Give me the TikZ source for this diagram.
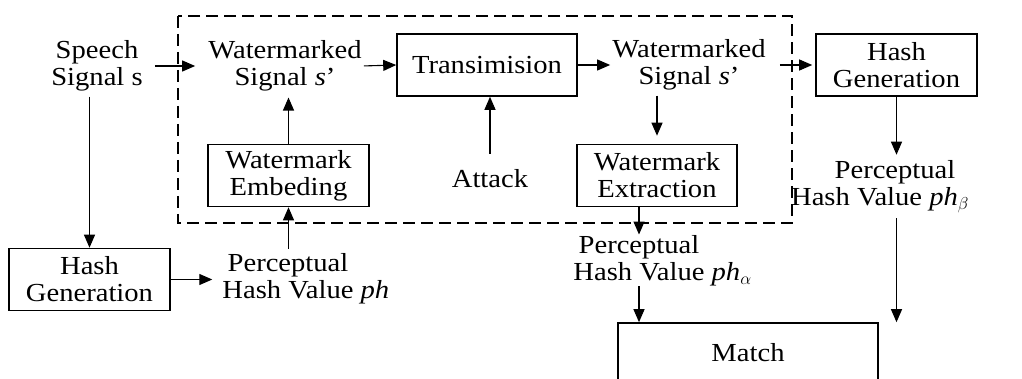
\documentclass[tikz,border=0pt]{standalone}
\usepackage{fontspec}
\setmainfont{Liberation Serif}[FakeStretch=1.1]
\usetikzlibrary{arrows.meta}
\tikzset{
  lbl/.style={font=\fontsize{26}{27}\selectfont, align=center, inner sep=0pt},
  blk/.style={lbl, draw, line width=1.6pt, minimum height=62pt},
  arr/.style={line width=1.1pt, -{Triangle[length=13pt,width=11pt]}},
  frame/.style={line width=1.5pt, dash pattern=on 12pt off 6pt}
}
\begin{document}
\begin{tikzpicture}[x=1pt,y=-1pt]
\useasboundingbox (0,0) rectangle (1022,379);
\clip (0,0) rectangle (1022,379);
\fill[white] (0,0) rectangle (1022,379);
% dashed frame
\draw[frame] (178,16) rectangle (792,223);
% text labels
\node[lbl] (speech) at (97,66) {Speech\\Signal s};
\node[lbl] (wm1) at (285,66) {Watermarked\\Signal \textit{s}’};
\node[lbl] (wm2) at (689,65) {Watermarked\\Signal \textit{s}’};
\node[lbl] (attack) at (490,179) {Attack};
\node[lbl] (phL) at (288,279) {Perceptual\\Hash Value\rlap{ \textit{ph}}};
\node[lbl] (phA) at (639,261) {Perceptual\\Hash Value\rlap{ \textit{ph}$_\alpha$}};
\node[lbl] (phB) at (880,187) {\hspace*{30pt}Perceptual\\Hash Value \textit{ph}$_\beta$};
% boxes
\node[blk, minimum width=180pt] (trans) at (487,65) {Transimision};
\node[blk, minimum width=161pt] (hashR) at (896.5,65) {Hash\\Generation};
\node[blk, minimum width=161pt] (embed) at (288.5,175.5) {Watermark\\Embeding};
\node[blk, minimum width=160pt] (extract) at (657,175.5) {Watermark\\Extraction};
\node[blk, minimum width=161pt] (hashL) at (89.5,279.5) {Hash\\Generation};
\node[blk, minimum width=260pt, minimum height=70pt] (match) at (748,358) {};
\node[lbl] (matchtxt) at (748,353) {Match};
% connectors
\draw[arr, shorten <=12pt, shorten >=13pt] (speech.east) -- (wm1.west);
\draw[arr, shorten <=2pt] (wm1.east) -- (trans.west);
\draw[arr, shorten >=2pt] (trans.east) -- (wm2.west);
\draw[arr, shorten <=14pt, shorten >=3pt] (wm2.east) -- (hashR.west);
\draw[arr, shorten <=5pt] (speech.south -| hashL.north) -- (hashL.north);
\draw[arr, shorten >=6pt] (embed.north) -- (embed.north |- wm1.south);
\draw[arr, shorten <=16pt] (attack.north) -- (attack.north |- trans.south);
\draw[arr, shorten <=5pt, shorten >=8pt] (extract.north |- wm2.south) -- (extract.north);
\draw[arr, shorten >=1pt] (extract.south -| phA.north) -- (phA.north);
\draw[arr] (phA.south) -- (phA.south |- match.north);
\draw[arr, shorten >=6pt] (hashR.south) -- (hashR.south |- phB.north);
\draw[arr, shorten <=5pt] (hashR.south |- phB.south) -- (hashR.south |- match.north);
\draw[arr, shorten >=10pt] (hashL.east) -- (hashL.east -| phL.west);
\draw[arr, shorten <=5pt] (embed.south |- phL.north) -- (embed.south);
\end{tikzpicture}
\end{document}
